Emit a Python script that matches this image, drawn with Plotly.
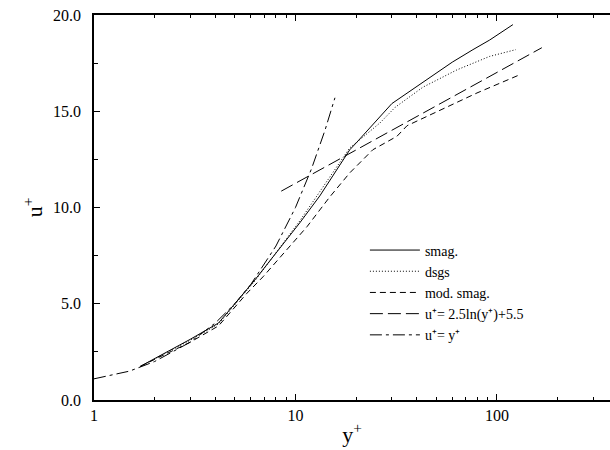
import plotly.graph_objects as go
import math

# ---- data ----
smag_y = [1.7, 3.0, 4.15, 6.3, 10.5, 13.2, 18.6, 20.2, 30.1, 60.0, 76.0, 92.0, 120.0]
smag_u = [1.75, 3.15, 4.0, 6.25, 9.2, 10.6, 13.0, 13.4, 15.4, 17.55, 18.2, 18.7, 19.5]

dsgs_y = [1.7, 3.0, 4.15, 6.3, 10.5, 13.2, 18.6, 20.2, 26.3, 31.2, 42.9, 63.3, 92.0, 124.0]
dsgs_u = [1.75, 3.1, 3.95, 6.2, 9.3, 10.8, 13.1, 13.4, 14.4, 15.2, 16.25, 17.15, 17.85, 18.2]

mods_y = [1.7, 3.0, 4.15, 5.75, 6.9, 11.4, 14.8, 18.6, 24.2, 31.9, 35.8, 52.1, 79.6, 130.0]
mods_u = [1.75, 3.0, 3.85, 5.55, 6.4, 9.0, 10.55, 11.8, 13.0, 13.7, 14.25, 15.05, 15.95, 16.9]

loglaw_y = [8.5, 167.0]
loglaw_u = [10.85, 18.3]

lin_y = [1.0, 1.5, 2.0, 3.0, 4.0, 5.0, 6.0, 8.0, 10.0, 12.0, 14.0, 15.7]
lin_u = [1.1, 1.5, 2.0, 3.0, 4.0, 5.0, 6.0, 8.0, 10.0, 12.0, 14.0, 15.7]

x_ticks = [1, 10, 100]
x_tick_text = ["1", "10", "100"]
x_minor = [2, 3, 4, 5, 6, 7, 8, 9, 20, 30, 40, 50, 60, 70, 80, 90, 200, 300]
y_ticks = [0, 5, 10, 15, 20]
y_tick_text = ["0.0", "5.0", "10.0", "15.0", "20.0"]

FONT = "Times New Roman, Liberation Serif, serif"
LW = 1

fig = go.Figure()
fig.add_trace(go.Scatter(x=smag_y, y=smag_u, mode="lines", name="smag.",
                         line=dict(color="black", width=LW, dash="solid")))
fig.add_trace(go.Scatter(x=dsgs_y, y=dsgs_u, mode="lines", name="dsgs",
                         line=dict(color="black", width=LW, dash="1px,2px")))
fig.add_trace(go.Scatter(x=mods_y, y=mods_u, mode="lines", name="mod. smag.",
                         line=dict(color="black", width=LW, dash="6px,4px")))
fig.add_trace(go.Scatter(x=loglaw_y, y=loglaw_u, mode="lines",
                         name="u⁺= 2.5ln(y⁺)+5.5",
                         line=dict(color="black", width=LW, dash="13px,5px")))
fig.add_trace(go.Scatter(x=lin_y, y=lin_u, mode="lines", name="u⁺= y⁺",
                         line=dict(color="black", width=LW, dash="12px,4px,3px,4px")))

fig.update_layout(
    width=610, height=450,
    margin=dict(l=94, r=0, t=15, b=50),
    paper_bgcolor="white", plot_bgcolor="white",
    font=dict(family=FONT, color="black", size=16),
    showlegend=True,
    legend=dict(x=0.525, y=0.43, xanchor="left", yanchor="top",
                bgcolor="rgba(0,0,0,0)", font=dict(family=FONT, size=14, color="black"),
                tracegroupgap=0, itemwidth=50),
)
fig.update_xaxes(
    type="log", range=[0, math.log10(364)],
    tickmode="array", tickvals=x_ticks, ticktext=x_tick_text,
    ticks="inside", ticklen=6, tickwidth=1, tickcolor="black",
    showline=True, linecolor="black", linewidth=1.5, mirror="ticks",
    showgrid=False, zeroline=False,
    minor=dict(tickmode="array", tickvals=x_minor, ticks="inside", ticklen=3,
               tickwidth=1, tickcolor="black", showgrid=False),
    tickfont=dict(family=FONT, size=16),
    title=dict(text="y<sup>+</sup>", font=dict(family=FONT, size=22), standoff=4),
)
fig.update_yaxes(
    range=[0, 20],
    tickmode="array", tickvals=y_ticks, ticktext=y_tick_text,
    ticks="inside", ticklen=6, tickwidth=1, tickcolor="black",
    showline=True, linecolor="black", linewidth=1.5, mirror=False,
    showgrid=False, zeroline=False,
    minor=dict(dtick=2.5, ticks="inside", ticklen=4, tickwidth=1,
               tickcolor="black", showgrid=False),
    tickfont=dict(family=FONT, size=16),
    ticklabelstandoff=8,
    title=dict(text="u<sup>+</sup>", font=dict(family=FONT, size=22), standoff=4),
)

fig.write_html("out.html")
